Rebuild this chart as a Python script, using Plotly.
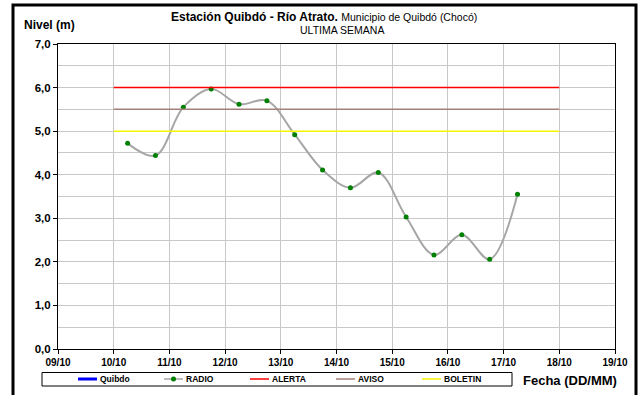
import plotly.graph_objects as go

# Nivel del rio (m), estacion Quibdo - Rio Atrato, lecturas RADIO cada 12 h
fechas = ["2023-10-10 06:00", "2023-10-10 18:00", "2023-10-11 06:00", "2023-10-11 18:00",
          "2023-10-12 06:00", "2023-10-12 18:00", "2023-10-13 06:00", "2023-10-13 18:00",
          "2023-10-14 06:00", "2023-10-14 18:00", "2023-10-15 06:00", "2023-10-15 18:00",
          "2023-10-16 06:00", "2023-10-16 18:00", "2023-10-17 06:00"]
nivel_radio = [4.72, 4.44, 5.55, 5.97, 5.62, 5.70, 4.92, 4.11,
               3.70, 4.05, 3.03, 2.16, 2.62, 2.06, 3.55]

# umbrales
umbral_fechas = ["2023-10-10", "2023-10-18"]
alerta = 6.0
aviso = 5.5
boletin = 5.0

rango_fechas = ["2023-10-09", "2023-10-19"]

leyenda_nombres = ["Quibdo", "RADIO", "ALERTA", "AVISO", "BOLETIN"]
leyenda_colores = ["#0000ff", "#a6a6a6", "#ff0000", "#a5807d", "#f5f500"]

FONT = "Liberation Sans, Arial, sans-serif"
W, H = 641, 395
L, R, T, B = 58, 26, 44, 46
pw, ph = W - L - R, H - T - B


def px(x):
    return (x - L) / pw


def py(y):
    return (H - B - y) / ph


fig = go.Figure()

fig.add_trace(go.Scatter(
    x=fechas, y=nivel_radio, mode="lines+markers", name="RADIO",
    line=dict(color="#a6a6a6", width=2, shape="spline", smoothing=1),
    marker=dict(color="#008000", size=5),
))
for nombre, valor, color in [("ALERTA", alerta, "#ff0000"),
                             ("AVISO", aviso, "#a5807d"),
                             ("BOLETIN", boletin, "#f5f500")]:
    fig.add_trace(go.Scatter(
        x=umbral_fechas, y=[valor, valor], mode="lines", name=nombre,
        line=dict(color=color, width=1.5),
    ))

shapes = []
annotations = []

# marco exterior
shapes.append(dict(type="rect", xref="paper", yref="paper",
                   x0=px(13), x1=px(636), y0=py(402), y1=py(5),
                   line=dict(color="black", width=3)))

# leyenda manual
shapes.append(dict(type="rect", xref="paper", yref="paper",
                   x0=px(42), x1=px(512), y0=py(386), y1=py(372.5),
                   line=dict(color="black", width=1)))
ly = 379
for i, (nombre, color) in enumerate(zip(leyenda_nombres, leyenda_colores)):
    x0 = 78 + 86 * i
    shapes.append(dict(type="line", xref="paper", yref="paper",
                       x0=px(x0), x1=px(x0 + 19), y0=py(ly), y1=py(ly),
                       line=dict(color=color, width=3 if i == 0 else 1.5)))
    if nombre == "RADIO":
        shapes.append(dict(type="circle", xref="paper", yref="paper",
                           x0=px(x0 + 7), x1=px(x0 + 12), y0=py(ly + 2.5), y1=py(ly - 2.5),
                           fillcolor="#008000", line=dict(width=0)))
    annotations.append(dict(text="<b>%s</b>" % nombre, xref="paper", yref="paper",
                            x=px(x0 + 20), y=py(ly), xanchor="left", yanchor="middle",
                            showarrow=False, font=dict(family=FONT, size=8.5, color="black")))

# titulos
annotations.append(dict(text="<b>Estación Quibdó - Río Atrato.</b> "
                             "<span style='font-size:10.5px'>Municipio de Quibdó (Chocó)</span>",
                        xref="paper", yref="paper", x=px(324), y=py(17),
                        xanchor="center", yanchor="middle", showarrow=False,
                        font=dict(family=FONT, size=12, color="black")))
annotations.append(dict(text="ULTIMA SEMANA", xref="paper", yref="paper",
                        x=px(342), y=py(30), xanchor="center", yanchor="middle",
                        showarrow=False, font=dict(family=FONT, size=10.5, color="black")))
annotations.append(dict(text="<b>Nivel (m)</b>", xref="paper", yref="paper",
                        x=px(22), y=py(25), xanchor="left", yanchor="middle",
                        showarrow=False, font=dict(family=FONT, size=12, color="black")))
annotations.append(dict(text="<b>Fecha (DD/MM)</b>", xref="paper", yref="paper",
                        x=px(570), y=py(380), xanchor="center", yanchor="middle",
                        showarrow=False, font=dict(family=FONT, size=13, color="black")))

fig.update_layout(
    width=W, height=H,
    margin=dict(l=L, r=R, t=T, b=B),
    paper_bgcolor="white", plot_bgcolor="white",
    showlegend=False,
    separators=",.",
    font=dict(family=FONT, color="black"),
    shapes=shapes, annotations=annotations,
)
fig.update_xaxes(
    type="date", range=rango_fechas, dtick=86400000, tick0="2023-10-09",
    tickformat="%d/%m", tickfont=dict(family=FONT, size=10, weight="bold"),
    ticks="outside", ticklen=4, tickcolor="black",
    showgrid=True, gridcolor="#c8c8c8", gridwidth=1,
    showline=True, linecolor="black", linewidth=1, mirror=True,
    zeroline=False,
)
fig.update_yaxes(
    range=[0, 7], dtick=1, tickformat=".1f",
    tickfont=dict(family=FONT, size=11.5, weight="bold"),
    ticks="outside", ticklen=4, tickcolor="black",
    showgrid=True, gridcolor="#c8c8c8", gridwidth=1,
    minor=dict(dtick=0.5, showgrid=True, gridcolor="#c8c8c8", gridwidth=1),
    showline=True, linecolor="black", linewidth=1, mirror=True,
    zeroline=False,
)

# sin margen del <body>, para que la figura ocupe la ventana completa
fig.write_html("out.html", config={"displayModeBar": False},
               post_script="document.body.style.margin='0';")
